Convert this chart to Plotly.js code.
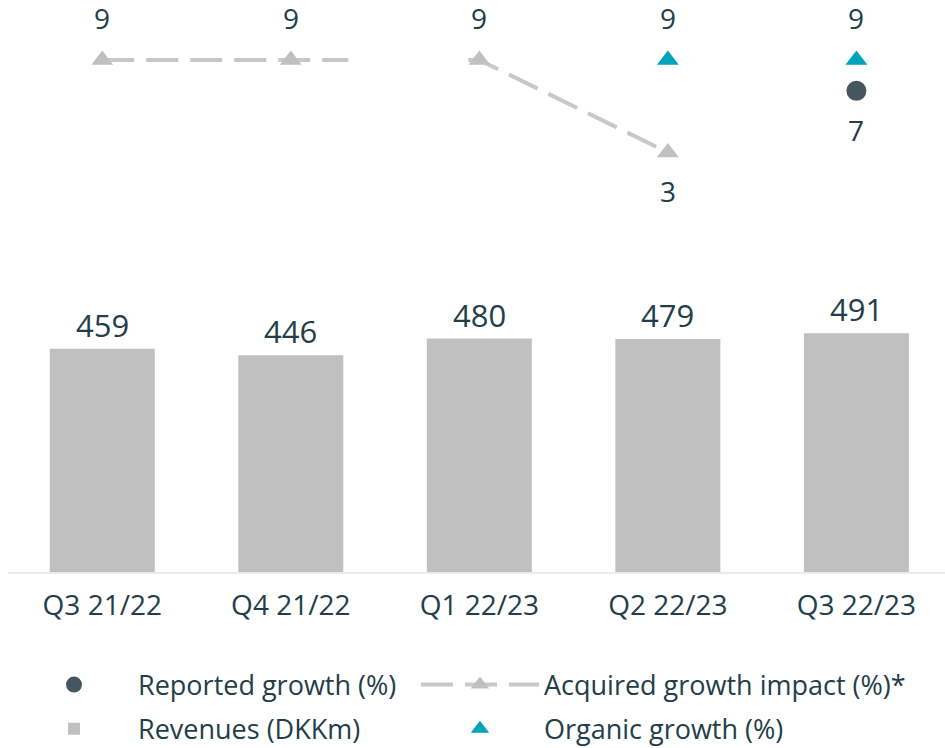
<!DOCTYPE html>
<html>
<head>
<meta charset="utf-8">
<script src="https://cdn.plot.ly/plotly-3.0.1.min.js"></script>
<style>html,body{margin:0;padding:0;background:#fff;}#chart{width:945px;height:748px;}</style>
</head>
<body>
<div id="chart"></div>
<script>
const quarters = ['Q3 21/22', 'Q4 21/22', 'Q1 22/23', 'Q2 22/23', 'Q3 22/23'];
const revenues = [459, 446, 480, 479, 491];
const reportedGrowth = [null, null, null, null, 7];
const acquiredGrowth = [9, 9, 9, 3, null];
const organicGrowth = [null, null, null, 9, 9];

const textColor = '#233d49';
const fontFamily = '"Open Sans", "Noto Sans", sans-serif';

const traces = [
  {
    type: 'bar', name: 'Revenues (DKKm)', x: quarters, y: revenues,
    xaxis: 'x', yaxis: 'y', width: 0.557,
    marker: {color: '#c0c0c0'}, hoverinfo: 'x+y',
    legend: 'legend', legendgroup: 'rev', legendrank: 2
  },
  {
    type: 'scatter', mode: 'lines+markers', name: 'Acquired growth impact (%)*',
    x: quarters, y: acquiredGrowth, xaxis: 'x', yaxis: 'y2',
    line: {color: '#c8c8c8', width: 4,
      dash: '32px,12px,32px,12px,32px,12px,32px,12px,32px,12px,26px,120px,32px,12px,32px,12px,32px,12px,32px,12px,32px,12px,32px,12px,32px,12px'},
    marker: {symbol: 'triangle-up', size: 19, color: '#c0c0c0'},
    legend: 'legend2', legendgroup: 'acq', legendrank: 1
  },
  {
    type: 'scatter', mode: 'markers', name: 'Reported growth (%)',
    x: quarters, y: reportedGrowth, xaxis: 'x', yaxis: 'y2',
    marker: {symbol: 'circle', size: 20, color: '#46565f'},
    legend: 'legend', legendgroup: 'rep', legendrank: 1
  },
  {
    type: 'scatter', mode: 'markers', name: 'Organic growth (%)',
    x: quarters, y: organicGrowth, xaxis: 'x', yaxis: 'y2',
    marker: {symbol: 'triangle-up', size: 19, color: '#00a3b9'},
    legend: 'legend2', legendgroup: 'org', legendrank: 2
  }
];

// labels: topmost marker of each quarter gets its label above, the others below
const growthSeries = [reportedGrowth, acquiredGrowth, organicGrowth];
const annotations = [];
quarters.forEach((q, i) => {
  const vals = growthSeries.map(s => s[i]).filter(v => v !== null);
  const top = Math.max(...vals);
  growthSeries.forEach(s => {
    const v = s[i];
    if (v === null) return;
    const above = v === top;
    annotations.push({
      x: q, y: v, xref: 'x', yref: 'y2', text: String(v), showarrow: false,
      yanchor: 'middle', yshift: above ? 42 : -39,
      font: {size: 28, color: textColor, family: fontFamily}
    });
  });
  annotations.push({
    x: q, y: revenues[i], xref: 'x', yref: 'y', text: String(revenues[i]), showarrow: false,
    yanchor: 'middle', yshift: 24,
    font: {size: 31, color: textColor, family: fontFamily}
  });
});

const legendCommon = {
  orientation: 'v', xref: 'container', yref: 'container',
  xanchor: 'left', yanchor: 'top', itemwidth: 118,
  font: {size: 27, color: textColor, family: fontFamily},
  traceorder: 'grouped', tracegroupgap: 6, bgcolor: 'rgba(0,0,0,0)'
};

const layout = {
  width: 945, height: 748,
  margin: {l: 8, r: 0, t: 0, b: 176, autoexpand: false},
  paper_bgcolor: '#ffffff', plot_bgcolor: '#ffffff',
  font: {family: fontFamily, color: textColor},
  showlegend: true,
  xaxis: {
    type: 'category', range: [-0.5, 4.47], showgrid: false, zeroline: false,
    showline: true, linecolor: '#ececec', linewidth: 2, ticks: '',
    tickfont: {size: 28, color: textColor, family: fontFamily},
    ticklabelstandoff: 7, fixedrange: true, automargin: false
  },
  yaxis: {
    domain: [0, 0.493], range: [0, 580], visible: false, fixedrange: true, automargin: false
  },
  yaxis2: {
    domain: [0.6154, 1], range: [-1.39, 12.9], anchor: 'x', visible: false, fixedrange: true, automargin: false
  },
  legend: Object.assign({}, legendCommon, {x: 0.0106, y: 0.117}),
  legend2: Object.assign({}, legendCommon, {x: 0.4402, y: 0.117}),
  annotations: annotations
};

Plotly.newPlot('chart', traces, layout, {displayModeBar: false, staticPlot: true});
</script>
</body>
</html>
